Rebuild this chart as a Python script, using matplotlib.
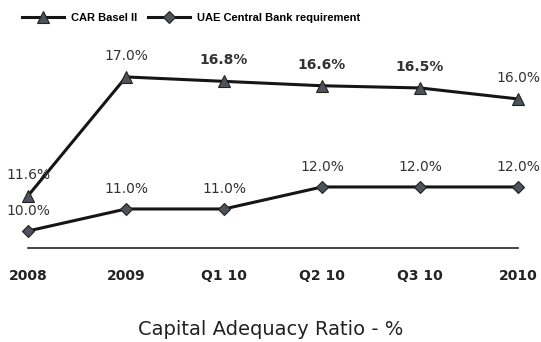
import matplotlib.pyplot as plt

periods = ['2008', '2009', 'Q1 10', 'Q2 10', 'Q3 10', '2010']
car_basel = [11.6, 17.0, 16.8, 16.6, 16.5, 16.0]
uae_req = [10.0, 11.0, 11.0, 12.0, 12.0, 12.0]
car_labels = ['11.6%', '17.0%', '16.8%', '16.6%', '16.5%', '16.0%']
uae_labels = ['10.0%', '11.0%', '11.0%', '12.0%', '12.0%', '12.0%']

fig = plt.figure(figsize=(5.41, 3.42), dpi=100)
ax = fig.add_axes([0.0185, 0.2749, 0.9704, 0.6082])

x = list(range(len(periods)))
line_col = '#151515'
mark_col = '#4d5358'

ax.plot(x, car_basel, color=line_col, lw=2.2, marker='^', ms=9,
        mfc=mark_col, mec='#222222', mew=0.8, label='CAR Basel II')
ax.plot(x, uae_req, color=line_col, lw=2.2, marker='D', ms=6.5,
        mfc=mark_col, mec='#222222', mew=0.8, label='UAE Central Bank requirement')

bold_car = {2, 3, 4}
for i, (v, t) in enumerate(zip(car_basel, car_labels)):
    ax.annotate(t, (i, v), xytext=(0, 21), textcoords='offset pixels',
                ha='center', va='center', fontsize=10, color='#333333',
                fontweight='bold' if i in bold_car else 'normal')
for i, (v, t) in enumerate(zip(uae_req, uae_labels)):
    ax.annotate(t, (i, v), xytext=(0, 20), textcoords='offset pixels',
                ha='center', va='center', fontsize=10, color='#333333')

ax.set_xlim(-0.184, 5.173)
ax.set_ylim(9.227, 18.68)

for s in ['top', 'right', 'left']:
    ax.spines[s].set_visible(False)
ax.spines['bottom'].set_bounds(0, 5)
ax.spines['bottom'].set_linewidth(1.1)
ax.spines['bottom'].set_color('#111111')
ax.set_yticks([])
ax.set_xticks(x)
ax.set_xticklabels(periods, fontsize=10, fontweight='bold', color='#222222')
ax.tick_params(axis='x', length=0, pad=15)

fig.text(0.5, 0.036, 'Capital Adequacy Ratio - %', ha='center', va='center',
         fontsize=14, color='#222222')

fig.legend(loc='center left', bbox_to_anchor=(0.022, 0.947), ncol=2,
           frameon=False, handlelength=3.8, columnspacing=1.0, handletextpad=0.6,
           prop={'family': 'Liberation Sans', 'weight': 'bold', 'size': 8})

fig.savefig('out.png', dpi=100)
